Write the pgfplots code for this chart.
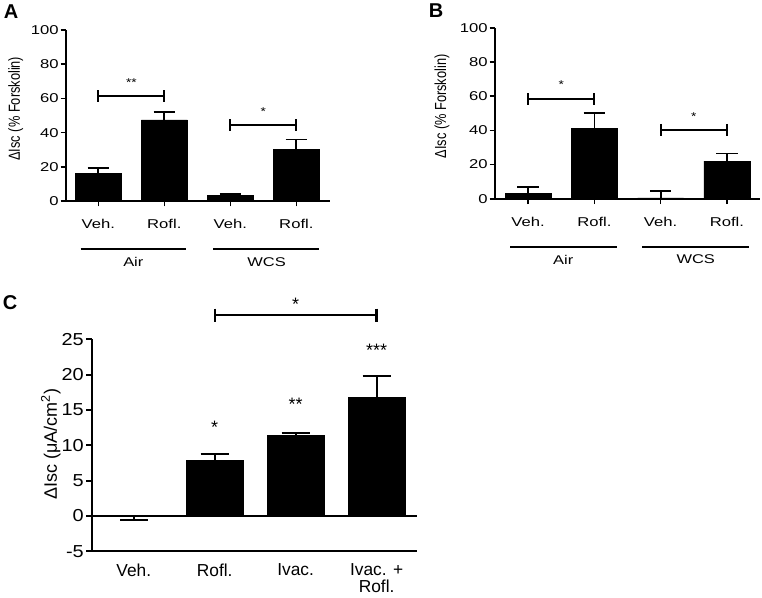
\documentclass[border=0pt]{standalone}
\usepackage{pgfplots}
\pgfplotsset{compat=1.18}
\usepackage{fontspec}
\setmainfont{Liberation Sans}
\begin{document}
\begin{tikzpicture}
\useasboundingbox (0,0) rectangle (571.5pt,447.75pt);
\tikzset{
  star/.style={font=\fontsize{8.5}{9}\selectfont, xscale=1.2},
  grplab/.style={font=\fontsize{9.5}{12}\selectfont, xscale=1.3},
  bigstar/.style={font=\fontsize{13.5}{15}\selectfont},
}
\pgfplotsset{
  panelAB/.style={
    scale only axis, width=198pt, height=128.25pt,
    axis x line=bottom, axis y line=left,
    axis line style={-, line width=1.4pt, black},
    ymin=0, ymax=100, ytick={0,20,40,60,80,100},
    xmin=-0.49, xmax=3.51,
    xtick={0,1,2,3}, xticklabels={Veh.,Rofl.,Veh.,Rofl.},
    tick align=outside, major tick length=4pt,
    tick style={line width=1.2pt, black},
    /pgf/number format/assume math mode=true,
    ticklabel style={font=\fontsize{9.6}{12}\selectfont, xscale=1.3},
    yticklabel style={inner xsep=1pt},
    xticklabel style={yshift=-6pt},
    ylabel={ΔIsc (\% Forskolin)},
    ylabel style={font=\fontsize{9.6}{11}\selectfont, at={(axis description cs:-0.19,0.54)}, anchor=center, yscale=1.25},
    clip=false,
  },
  barstyle/.style={ybar, bar shift=0pt, bar width=34.5pt, fill=black, draw=black,
    error bars/.cd, y dir=plus, y explicit,
    error bar style={line width=1.3pt, black},
    error mark options={rotate=90, line width=1.3pt, black, mark size=8pt}},
  brk/.style={black, line width=1.5pt, mark=|, mark size=4.5pt, mark options={line width=1.5pt}},
  grp/.style={black, line width=1.5pt},
}
% Panel A
\begin{axis}[panelAB, at={(49.5pt,297pt)}, anchor=south west]
\addplot[barstyle] coordinates {(0,16) +- (0,3.5) (1,47.4) +- (0,4.8) (2,3.3) +- (0,1.0) (3,30.2) +- (0,5.8)};
\addplot[brk] coordinates {(0,61.2) (1,61.2)};
\addplot[brk] coordinates {(2,44.4) (3,44.4)};
\node[star] at (axis cs:0.5,69) {**};
\node[star] at (axis cs:2.5,52) {*};
\addplot[grp] coordinates {(-0.27,-27.9) (1.33,-27.9)};
\addplot[grp] coordinates {(1.74,-27.9) (3.35,-27.9)};
\node[grplab] at (axis cs:0.53,-35.5) {Air};
\node[grplab] at (axis cs:2.55,-35.5) {WCS};
\end{axis}
% Panel B
\begin{axis}[panelAB, at={(371.25pt,298.7pt)}, anchor=south west, width=198.75pt,
  xmin=-0.5, xmax=3.5, ylabel style={at={(axis description cs:-0.2,0.54)}}]
\addplot[barstyle] coordinates {(0,3.2) +- (0,3.5) (1,41.2) +- (0,8.8) (2,0.5) +- (0,4.2) (3,22) +- (0,4.5)};
\addplot[brk] coordinates {(0,58.1) (1,58.1)};
\addplot[brk] coordinates {(2,40.2) (3,40.2)};
\node[star] at (axis cs:0.5,66.5) {*};
\node[star] at (axis cs:2.5,48) {*};
\addplot[grp] coordinates {(-0.27,-28.1) (1.34,-28.1)};
\addplot[grp] coordinates {(1.72,-28.1) (3.33,-28.1)};
\node[grplab] at (axis cs:0.53,-35.5) {Air};
\node[grplab] at (axis cs:2.53,-35.5) {WCS};
\end{axis}
% Panel C
\begin{axis}[scale only axis, width=244pt, height=159pt,
    at={(68.8pt,34.3pt)}, anchor=south west,
    axis x line=bottom, axis y line=left,
    axis line style={-, line width=1.8pt, black},
    ymin=-5, ymax=25, ytick={-5,0,5,10,15,20,25},
    xmin=-0.52, xmax=3.5,
    xtick={0,1,2,3}, xticklabels={Veh.,Rofl.,Ivac.,{Ivac. +\\Rofl.}},
    xtick style={draw=none},
    ytick style={line width=1.5pt, black},
    tick align=outside, major tick length=4pt,
    /pgf/number format/assume math mode=true,
    ticklabel style={font=\fontsize{13}{12.2}\selectfont},
    yticklabel style={inner xsep=1.5pt, xscale=1.15},
    xticklabel style={align=center, anchor=north, yshift=-2pt},
    ylabel={ΔIsc (μA/cm\textsuperscript{2})},
    ylabel style={font=\fontsize{13.5}{15}\selectfont, at={(axis description cs:-0.126,0.506)}, anchor=center},
    clip=false]
\addplot[black, line width=1.6pt] coordinates {(-0.52,0) (3.5,0)};
\addplot[ybar, bar shift=0pt, bar width=42.75pt, fill=black, draw=black,
    error bars/.cd, y dir=plus, y explicit,
    error bar style={line width=1.5pt, black},
    error mark options={rotate=90, line width=1.5pt, black, mark size=10.5pt}]
  coordinates {(1,7.9) +- (0,0.8) (2,11.4) +- (0,0.4) (3,16.8) +- (0,3.0)};
\addplot[ybar, bar shift=0pt, bar width=42.75pt, fill=black, draw=black,
    error bars/.cd, y dir=minus, y explicit,
    error bar style={line width=1.5pt, black},
    error mark options={rotate=90, line width=1.5pt, black, mark size=10.5pt}]
  coordinates {(0,-0.1) +- (0,0.45)};
\addplot[black, line width=1.8pt, mark=|, mark size=5pt, mark options={line width=1.8pt}] coordinates {(1,28.4) (3,28.4)};
\node[bigstar] at (axis cs:2,30.0) {*};
\node[bigstar] at (axis cs:1,12.5) {*};
\node[bigstar] at (axis cs:2,15.8) {**};
\node[bigstar] at (axis cs:3,23.5) {***};
\end{axis}
% panel letters
\node[font=\fontsize{15}{17}\selectfont\bfseries] at (8.3pt, 438.75pt) {A};
\node[font=\fontsize{15}{17}\selectfont\bfseries] at (327pt, 440pt) {B};
\node[font=\fontsize{15}{17}\selectfont\bfseries] at (7.5pt, 220.5pt) {C};
\end{tikzpicture}
\end{document}
